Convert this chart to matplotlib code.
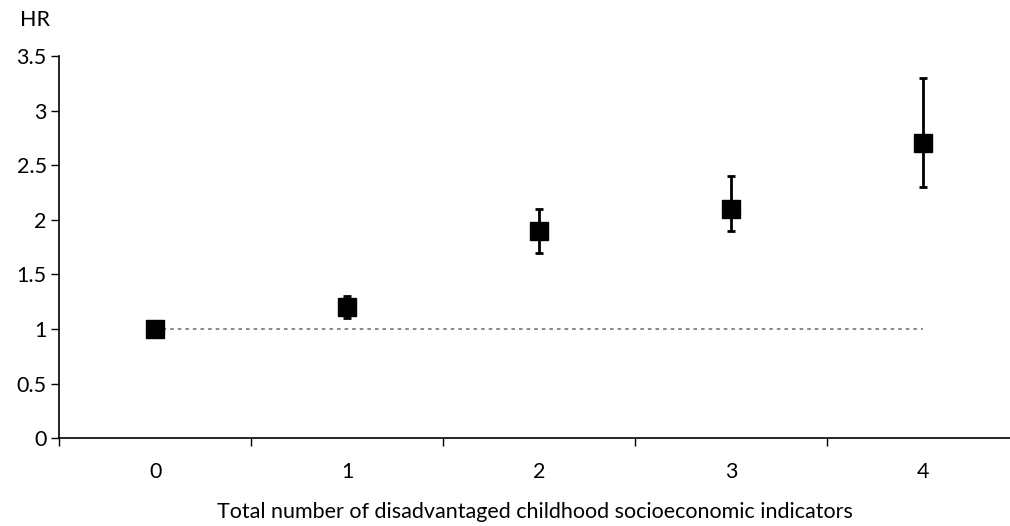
import numpy as np
import matplotlib
matplotlib.use("Agg")
import matplotlib.pyplot as plt

plt.rcParams['font.family'] = ['Lato', 'DejaVu Sans']

# data
categories = ["0", "1", "2", "3", "4"]
hr = [1.0, 1.2, 1.9, 2.1, 2.7]
ci_low = [1.0, 1.1, 1.7, 1.9, 2.3]
ci_high = [1.0, 1.3, 2.1, 2.4, 3.3]
ref_line = [1.0, 1.0]

x = np.arange(len(categories))
hr = np.array(hr)
yerr = [hr - np.array(ci_low), np.array(ci_high) - hr]

fs = 15.5

fig = plt.figure(figsize=(10.1, 5.26), dpi=100)
# plot area runs a little past the right edge, as in the original
ax = fig.add_axes([0.0587, 0.167, 0.9505, 0.7265])

# reference line at HR = 1
ax.plot([x[0], x[-1]], ref_line, color="#7f7f7f", linestyle=(0, (2, 2.2)),
        linewidth=1.3, zorder=1)

# error bars
ax.errorbar(x, hr, yerr=yerr, fmt="none", ecolor="black", elinewidth=2,
            capsize=3, capthick=2, zorder=2)
ax.plot(x, hr, linestyle="none", marker="s", markersize=13.5,
        color="black", zorder=3)

ax.set_ylim(0, 3.5)
ax.set_yticks(np.arange(0, 3.51, 0.5))
ax.set_yticklabels(["0", "0.5", "1", "1.5", "2", "2.5", "3", "3.5"])
ax.set_xlim(-0.5, 4.5)

# ticks between categories, labels at the centre
ax.set_xticks(np.arange(-0.5, 4.6, 1.0))
ax.set_xticklabels([])
ax.set_xticks(x, minor=True)
ax.set_xticklabels(categories, minor=True)
ax.tick_params(axis="x", which="major", direction="out", length=6, width=1)
ax.tick_params(axis="x", which="minor", length=0, pad=17, labelsize=fs)
ax.tick_params(axis="y", direction="out", length=6, width=1, labelsize=fs, pad=3)

for s in ["top", "right"]:
    ax.spines[s].set_visible(False)
for s in ["left", "bottom"]:
    ax.spines[s].set_linewidth(1.2)

fig.text(535 / 1010, 1 - 512 / 526, "Total number of disadvantaged childhood socioeconomic indicators",
         fontsize=fs, ha="center", va="center")
fig.text(0.035, 1 - 20 / 526, "HR", fontsize=fs, ha="center", va="center")

fig.savefig("out.png", dpi=100)
